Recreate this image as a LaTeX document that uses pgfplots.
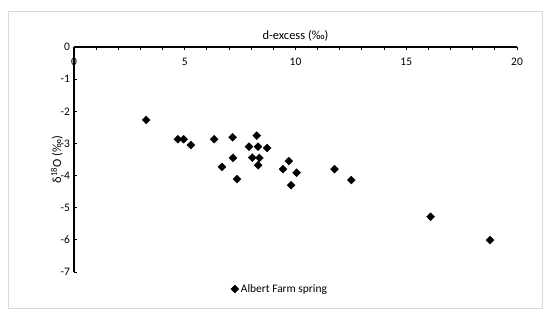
\documentclass[border=0pt]{standalone}
\usepackage{fontspec}
\setmainfont{Carlito}
\usepackage{pgfplots}
\pgfplotsset{compat=1.18}

\begin{document}
\begin{tikzpicture}
\fontsize{11.5}{13}\selectfont
\useasboundingbox (0,0) rectangle (550bp,318bp);
\draw[black!15, line width=0.8bp] (8bp,10bp) rectangle (542bp,307bp);
\begin{axis}[
    at={(74bp,46bp)}, anchor=south west,
    scale only axis,
    width=443bp, height=225bp,
    xmin=0, xmax=20,
    ymin=-7, ymax=0,
    axis x line=top,
    axis y line=left,
    axis line style={-, line width=1.2bp},
    xtick={0,5,...,20},
    minor x tick num=4,
    ytick={-7,-6,...,0},
    tick align=inside,
    major tick length=3bp,
    minor tick length=3bp,
    tick style={line width=1bp, black},
    /pgf/number format/assume math mode=true,
    xticklabel style={anchor=north, yshift=-7bp},
    ticklabel style={font=\fontsize{11.5}{13}\selectfont},
    xlabel={d-excess (‰)},
    ylabel={δ\textsuperscript{18}O (‰)},
    xlabel style={font=\fontsize{12.5}{14}\selectfont, yshift=2bp},
    ylabel style={font=\fontsize{12.5}{14}\selectfont, yshift=-10bp},
    legend style={at={(0.465,-0.0756)}, anchor=center, draw=none, fill=none,
        font=\fontsize{11.5}{13}\selectfont, inner sep=1bp},
    legend cell align=left,
    clip=false,
]
\addplot[only marks, mark=square*, mark size=2.8bp, mark options={rotate=45, fill=black, draw=black}] coordinates {
    (3.26,-2.27) (4.69,-2.87) (4.95,-2.87) (5.28,-3.05) (6.33,-2.87)
    (7.16,-2.81) (7.18,-3.45) (6.68,-3.73) (7.36,-4.11) (8.25,-2.76)
    (7.90,-3.10) (8.31,-3.10) (8.72,-3.14) (8.05,-3.44) (8.37,-3.45)
    (8.31,-3.68) (9.70,-3.55) (9.44,-3.80) (10.05,-3.91) (9.80,-4.30)
    (11.76,-3.80) (12.52,-4.14) (16.10,-5.28) (18.78,-6.01)
};
\addlegendentry{Albert Farm spring}
\end{axis}
\end{tikzpicture}
\end{document}
